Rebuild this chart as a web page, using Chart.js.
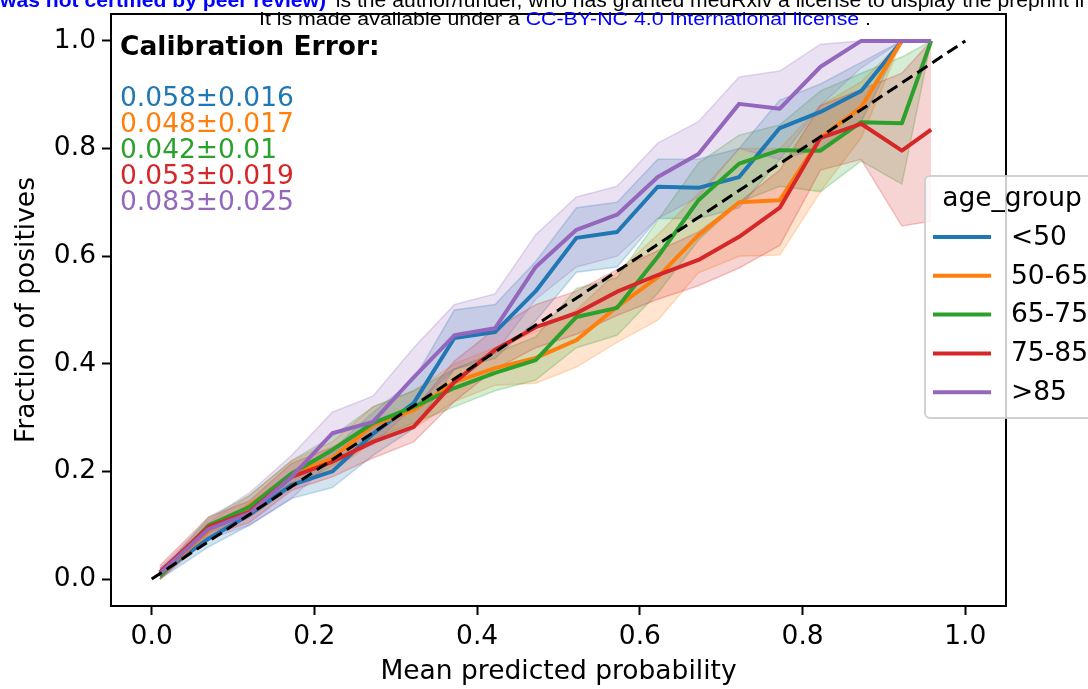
<!DOCTYPE html>
<html>
<head>
<meta charset="utf-8">
<script src="https://cdn.jsdelivr.net/npm/chart.js@4.4.0/dist/chart.umd.min.js"></script>
<style>
  html, body { margin: 0; padding: 0; background: #fff; }
  #wrap { width: 1088px; height: 689px; }
</style>
</head>
<body>
<div id="wrap"><canvas id="myChart" width="1088" height="689"></canvas></div>
<script>
// bin centres (mean predicted probability)
const binX = [0.01, 0.07, 0.12, 0.172, 0.222, 0.272, 0.322, 0.372, 0.422, 0.472,
              0.522, 0.572, 0.622, 0.672, 0.722, 0.772, 0.822, 0.872, 0.922, 0.958];

const groups = ['<50', '50-65', '65-75', '75-85', '>85'];
const colors = ['#1f77b4', '#ff7f0e', '#2ca02c', '#d62728', '#9467bd'];
const errors = ['0.058±0.016', '0.048±0.017', '0.042±0.01', '0.053±0.019', '0.083±0.025'];

// fraction of positives, with lower / upper band
const lt50 = [0.01, 0.075, 0.12, 0.175, 0.20, 0.27, 0.327, 0.448, 0.459, 0.535, 0.634, 0.645, 0.729, 0.727, 0.747, 0.838, 0.868, 0.907, 1.0];
const lt50Lo = [0.0, 0.06, 0.10, 0.15, 0.17, 0.23, 0.28, 0.39, 0.41, 0.48, 0.57, 0.58, 0.67, 0.67, 0.69, 0.78, 0.80, 0.85, 1.0];
const lt50Hi = [0.02, 0.09, 0.14, 0.20, 0.24, 0.31, 0.37, 0.50, 0.51, 0.59, 0.69, 0.70, 0.78, 0.78, 0.80, 0.89, 0.92, 0.96, 1.0];

const a5065 = [0.008, 0.09, 0.136, 0.194, 0.225, 0.286, 0.314, 0.366, 0.392, 0.411, 0.444, 0.506, 0.561, 0.639, 0.70, 0.704, 0.82, 0.877, 1.0];
const a5065Lo = [0.0, 0.075, 0.115, 0.17, 0.20, 0.255, 0.28, 0.33, 0.36, 0.364, 0.394, 0.44, 0.481, 0.569, 0.60, 0.602, 0.72, 0.82, 1.0];
const a5065Hi = [0.015, 0.105, 0.155, 0.22, 0.255, 0.32, 0.35, 0.40, 0.43, 0.46, 0.50, 0.57, 0.64, 0.717, 0.80, 0.80, 0.88, 0.924, 1.0];

const a6575 = [0.005, 0.10, 0.134, 0.196, 0.24, 0.29, 0.32, 0.355, 0.383, 0.407, 0.487, 0.504, 0.599, 0.704, 0.772, 0.797, 0.796, 0.849, 0.847, 1.0];
const a6575Lo = [0.0, 0.085, 0.115, 0.17, 0.21, 0.26, 0.29, 0.32, 0.35, 0.37, 0.43, 0.453, 0.531, 0.63, 0.70, 0.73, 0.72, 0.777, 0.734, 1.0];
const a6575Hi = [0.01, 0.115, 0.155, 0.22, 0.265, 0.32, 0.35, 0.39, 0.42, 0.45, 0.54, 0.56, 0.667, 0.773, 0.825, 0.844, 0.907, 0.94, 0.97, 1.0];

const a7585 = [0.013, 0.097, 0.125, 0.19, 0.218, 0.255, 0.283, 0.366, 0.426, 0.468, 0.494, 0.534, 0.565, 0.593, 0.636, 0.69, 0.82, 0.846, 0.796, 0.835];
const a7585Lo = [0.0, 0.08, 0.105, 0.165, 0.19, 0.225, 0.255, 0.33, 0.39, 0.43, 0.455, 0.49, 0.52, 0.545, 0.578, 0.62, 0.76, 0.78, 0.656, 0.665];
const a7585Hi = [0.025, 0.115, 0.145, 0.215, 0.245, 0.285, 0.315, 0.405, 0.465, 0.51, 0.535, 0.575, 0.61, 0.645, 0.70, 0.76, 0.88, 0.91, 0.94, 1.0];

const gt85 = [0.01, 0.093, 0.122, 0.19, 0.271, 0.292, 0.375, 0.453, 0.466, 0.58, 0.649, 0.677, 0.747, 0.79, 0.883, 0.874, 0.952, 1.0, 1.0, 1.0];
const gt85Lo = [0.0, 0.075, 0.10, 0.15, 0.22, 0.25, 0.32, 0.39, 0.42, 0.52, 0.58, 0.60, 0.67, 0.71, 0.80, 0.78, 0.88, 0.95, 1.0, 1.0];
const gt85Hi = [0.02, 0.11, 0.16, 0.23, 0.31, 0.34, 0.43, 0.51, 0.53, 0.64, 0.71, 0.73, 0.81, 0.85, 0.933, 0.944, 0.994, 1.0, 1.0, 1.0];

const diagX = [0, 1];
const tickVals = [0, 0.2, 0.4, 0.6, 0.8, 1.0];
const tickLabels = ['0.0', '0.2', '0.4', '0.6', '0.8', '1.0'];

const means = [lt50, a5065, a6575, a7585, gt85];
const lows = [lt50Lo, a5065Lo, a6575Lo, a7585Lo, gt85Lo];
const highs = [lt50Hi, a5065Hi, a6575Hi, a7585Hi, gt85Hi];

const FONT = '"DejaVu Sans", sans-serif';
const FS = 26.5;

function pts(arr) {
  return arr.map((v, i) => ({ x: binX[i], y: v }));
}
function rgba(hex, a) {
  const n = parseInt(hex.slice(1), 16);
  return 'rgba(' + (n >> 16) + ',' + ((n >> 8) & 255) + ',' + (n & 255) + ',' + a + ')';
}

const datasets = [];
datasets.push({
  label: 'diag',
  data: diagX.map(v => ({ x: v, y: v })),
  borderColor: '#000', borderWidth: 3, borderDash: [12, 6],
  pointRadius: 0, fill: false, order: -1
});
groups.forEach((g, i) => {
  datasets.push({
    label: g, data: pts(means[i]),
    borderColor: colors[i], borderWidth: 4, pointRadius: 0,
    fill: false, order: 4 - i, borderJoinStyle: 'round'
  });
});
groups.forEach((g, i) => {
  const loIdx = datasets.length;
  datasets.push({
    label: g + ' lo', data: pts(lows[i]),
    borderColor: rgba(colors[i], 0.25), borderWidth: 1.5, pointRadius: 0,
    fill: false, order: 30 - i
  });
  datasets.push({
    label: g + ' hi', data: pts(highs[i]),
    borderColor: rgba(colors[i], 0.25), borderWidth: 1.5, pointRadius: 0,
    backgroundColor: rgba(colors[i], 0.2),
    fill: { target: loIdx }, order: 30 - i
  });
});

const frameAndText = {
  id: 'frameAndText',
  afterDraw(chart) {
    const ctx = chart.ctx;
    const a = chart.chartArea;
    ctx.save();
    // axes box
    ctx.strokeStyle = '#000';
    ctx.lineWidth = 2;
    ctx.strokeRect(a.left, a.top, a.right - a.left, a.bottom - a.top);

    // calibration error text
    ctx.textBaseline = 'alphabetic';
    ctx.textAlign = 'left';
    ctx.fillStyle = '#000';
    ctx.font = 'bold ' + FS + 'px ' + FONT;
    ctx.fillText('Calibration Error:', a.left + 9, a.top + 41);
    ctx.font = FS + 'px ' + FONT;
    errors.forEach((t, i) => {
      ctx.fillStyle = colors[i];
      ctx.fillText(t, a.left + 9, a.top + 92 + i * 26);
    });

    // legend
    const lx = a.right - 81, ly = 176, lw = 200, lh = 242;
    ctx.fillStyle = 'rgba(255,255,255,0.8)';
    ctx.strokeStyle = 'rgba(204,204,204,0.9)';
    ctx.lineWidth = 2;
    ctx.beginPath();
    ctx.roundRect(lx, ly, lw, lh, 5);
    ctx.fill();
    ctx.stroke();
    ctx.fillStyle = '#000';
    ctx.font = FS + 'px ' + FONT;
    ctx.textBaseline = 'middle';
    ctx.textAlign = 'center';
    ctx.fillText('age_group', lx + 87, ly + 23);
    ctx.textAlign = 'left';
    groups.forEach((g, i) => {
      const y = ly + 61 + i * 38.8;
      ctx.strokeStyle = colors[i];
      ctx.lineWidth = 4;
      ctx.beginPath();
      ctx.moveTo(lx + 8, y);
      ctx.lineTo(lx + 66, y);
      ctx.stroke();
      ctx.fillStyle = '#000';
      ctx.fillText(g, lx + 86, y + 1);
    });

    // preprint header
    ctx.textBaseline = 'alphabetic';
    const boldPart = 'was not certified by peer review)';
    const restPart = ' is the author/funder, who has granted medRxiv a license to display the preprint in perpetuity.';
    ctx.font = 'bold 20px "Liberation Sans", Arial, sans-serif';
    const sx1 = 326 / ctx.measureText(boldPart).width;
    ctx.save();
    ctx.scale(sx1, 1);
    ctx.fillStyle = '#0000ff';
    ctx.fillText(boldPart, 0, 7);
    ctx.font = '20px "Liberation Sans", Arial, sans-serif';
    ctx.fillStyle = '#000';
    ctx.fillText(restPart, 330 / sx1, 7);
    ctx.restore();

    const p1 = 'It is made available under a ';
    const p2 = 'CC-BY-NC 4.0 International license';
    const p3 = ' .';
    ctx.font = '17.5px "Liberation Sans", Arial, sans-serif';
    const w1 = ctx.measureText(p1).width, w2 = ctx.measureText(p2).width, w3 = ctx.measureText(p3).width;
    const sx2 = (871 - 259) / (w1 + w2 + w3);
    ctx.save();
    ctx.translate(259, 25);
    ctx.scale(sx2, 1);
    ctx.fillStyle = '#000';
    ctx.fillText(p1, 0, 0);
    ctx.fillStyle = '#0000ff';
    ctx.fillText(p2, w1, 0);
    ctx.fillStyle = '#000';
    ctx.fillText(p3, w1 + w2, 0);
    ctx.restore();
    ctx.restore();
  }
};

function axis(title, isX) {
  return {
    type: 'linear',
    min: -0.05, max: 1.05,
    afterBuildTicks: s => { s.ticks = tickVals.map(v => ({ value: v })); },
    afterFit: s => {
      if (isX) { s.height = 83; s.paddingLeft = 0; s.paddingRight = 0; }
      else { s.width = 111; s.paddingTop = 0; s.paddingBottom = 0; }
    },
    border: { display: true, color: '#000', width: 2 },
    grid: { display: true, drawOnChartArea: false, drawTicks: true, tickLength: 9, tickWidth: 2, tickColor: '#000' },
    ticks: {
      color: '#000', padding: 6, maxRotation: 0, autoSkip: false,
      font: { family: FONT, size: FS },
      callback: (v, i) => tickLabels[i]
    },
    title: {
      display: true, text: title, color: '#000',
      font: { family: FONT, size: FS },
      padding: isX ? { top: 0, bottom: 1 } : { top: 11, bottom: 0 }
    }
  };
}

const ctx = document.getElementById('myChart');
const myChart = new Chart(ctx, {
  type: 'line',
  data: { datasets: datasets },
  options: {
    responsive: false,
    animation: false,
    layout: { padding: { top: 14, right: 82, left: 0, bottom: 0 } },
    plugins: { legend: { display: false }, tooltip: { enabled: false } },
    elements: { line: { tension: 0 } },
    scales: {
      x: axis('Mean predicted probability', true),
      y: axis('Fraction of positives', false)
    }
  },
  plugins: [frameAndText]
});
</script>
</body>
</html>
